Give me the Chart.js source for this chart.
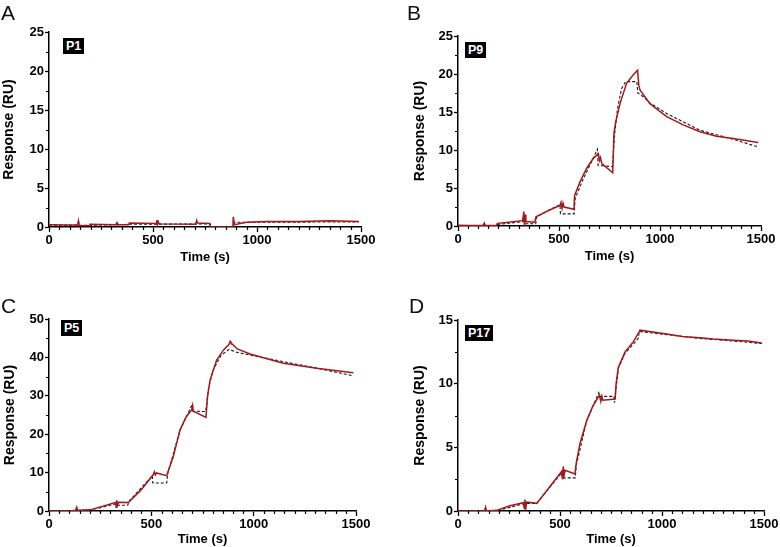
<!DOCTYPE html>
<html>
<head>
<meta charset="utf-8">
<script src="https://cdn.jsdelivr.net/npm/chart.js@4.4.1/dist/chart.umd.min.js"></script>
<style>
  body { margin: 0; background: #fff; width: 780px; height: 547px; position: relative; overflow: hidden;
         font-family: "Liberation Sans", Arial, sans-serif; }
  canvas { position: absolute; }
  .letter { position: absolute; font-size: 21px; line-height: 21px; color: #111; }
  .tag { position: absolute; background: #000; color: #fff; font-weight: bold; font-size: 12.5px;
         line-height: 14px; padding: 1px 3px; }
</style>
</head>
<body>
<canvas id="chartA" width="390" height="273" style="left:0;top:0"></canvas>
<canvas id="chartB" width="390" height="273" style="left:390px;top:0"></canvas>
<canvas id="chartC" width="390" height="274" style="left:0;top:273px"></canvas>
<canvas id="chartD" width="390" height="274" style="left:390px;top:273px"></canvas>

<div class="letter" style="left:1px;top:2px">A</div>
<div class="letter" style="left:407px;top:2px">B</div>
<div class="letter" style="left:1px;top:295px">C</div>
<div class="letter" style="left:409px;top:295px">D</div>

<div class="tag" id="tagA" style="left:63px;top:38px"></div>
<div class="tag" id="tagB" style="left:465px;top:42px"></div>
<div class="tag" id="tagC" style="left:61px;top:320px"></div>
<div class="tag" id="tagD" style="left:465px;top:325px"></div>

<script>
// panel names
let peptides = ["P1", "P9", "P5", "P17"];

// A - P1 (measured, red)
let timeRedA = [0, 100, 138, 141, 144, 195, 197, 320, 327, 330, 383, 386, 515, 518, 521, 525, 530, 705, 710, 714, 772, 776, 884, 886, 892, 950, 1050, 1200, 1350, 1490];
let respRedA = [0.3, 0.25, 0.3, 0.75, 0.2, 0.15, 0.35, 0.3, 0.55, 0.3, 0.3, 0.5, 0.45, 0.9, 0.3, 0.7, 0.4, 0.35, 0.85, 0.5, 0.45, 0.0, 0.0, 1.3, 0.3, 0.6, 0.7, 0.7, 0.8, 0.7];
// A - fit (black dashed)
let timeFitA = [0, 195, 386, 775, 778, 884, 888, 1490];
let respFitA = [0.25, 0.2, 0.35, 0.4, 0.0, 0.0, 0.6, 0.65];

// B - P9
let timeRedB = [0, 60, 125, 130, 135, 190, 195, 250, 320, 326, 329, 332, 336, 380, 386, 430, 470, 505, 510, 515, 520, 525, 574, 577, 604, 637, 670, 695, 700, 705, 712, 766, 772, 780, 802, 835, 868, 889, 895, 901, 950, 1033, 1115, 1198, 1280, 1363, 1486];
let respRedB = [0.1, 0.05, 0.1, 0.4, 0.05, 0.1, 0.35, 0.5, 0.7, 1.9, 0.0, 1.5, 0.6, 0.5, 1.2, 1.8, 2.3, 2.7, 3.1, 2.3, 3.0, 2.5, 2.2, 4.0, 5.8, 7.6, 8.9, 9.5, 8.6, 9.0, 8.2, 7.0, 12.2, 13.6, 16.1, 18.8, 19.9, 20.5, 18.5, 17.9, 16.1, 14.4, 13.3, 12.4, 11.8, 11.5, 11.0];
let timeFitB = [0, 190, 195, 330, 333, 385, 390, 450, 505, 507, 575, 580, 620, 660, 690, 693, 765, 775, 790, 810, 830, 885, 890, 917, 950, 1033, 1198, 1363, 1486];
let respFitB = [0, 0, 0.2, 0.6, 0.3, 0.3, 1.2, 2.1, 2.8, 1.6, 1.6, 3.6, 6.2, 8.4, 10.1, 8.0, 7.8, 12.0, 15.5, 18.1, 19.0, 19.0, 17.5, 17.0, 16.2, 14.8, 12.6, 11.4, 10.4];

// C - P5
let timeRedC = [0, 100, 130, 135, 140, 200, 260, 325, 328, 331, 335, 340, 388, 450, 510, 515, 520, 525, 575, 590, 607, 640, 670, 697, 702, 705, 767, 775, 787, 819, 852, 880, 885, 889, 920, 982, 1145, 1308, 1487];
let respRedC = [0, 0, 0.2, 1.0, 0.2, 0.3, 1.2, 2.2, 1.0, 2.8, 1.5, 2.3, 2.2, 5.5, 9.5, 10.2, 9.4, 9.9, 9.2, 11.5, 14.1, 21.1, 24.5, 26.3, 27.5, 26.0, 24.4, 30.0, 34.1, 39.3, 41.9, 43.4, 44.2, 43.8, 42.2, 40.9, 38.5, 37.2, 36.0];
let timeFitC = [0, 190, 200, 330, 333, 385, 390, 505, 507, 575, 580, 640, 700, 703, 765, 780, 800, 840, 880, 920, 982, 1145, 1308, 1487];
let respFitC = [0, 0, 0.2, 1.9, 1.5, 1.5, 2.5, 9.2, 7.3, 7.3, 9.8, 21.0, 27.8, 26.0, 25.9, 32.0, 36.5, 40.5, 42.1, 41.3, 40.6, 38.9, 37.2, 35.2];

// D - P17
let timeRedD = [0, 130, 135, 140, 190, 250, 320, 325, 328, 332, 336, 386, 450, 508, 512, 516, 520, 525, 573, 580, 598, 631, 660, 693, 700, 705, 710, 770, 775, 786, 819, 860, 889, 892, 1023, 1100, 1186, 1250, 1350, 1420, 1489];
let respRedD = [0, 0, 0.3, 0, 0.05, 0.4, 0.65, 0.2, 0.9, 0.1, 0.7, 0.6, 1.9, 3.1, 2.5, 3.5, 2.8, 3.2, 2.9, 3.8, 5.3, 7.1, 8.2, 9.1, 8.6, 9.0, 8.7, 8.8, 10.0, 11.3, 12.5, 13.3, 14.1, 14.2, 13.9, 13.7, 13.6, 13.5, 13.4, 13.35, 13.2];
let timeFitD = [0, 190, 195, 330, 386, 508, 510, 575, 580, 631, 690, 695, 765, 767, 786, 819, 860, 885, 888, 1023, 1186, 1350, 1489];
let respFitD = [0, 0, 0.05, 0.6, 0.6, 3.0, 2.6, 2.6, 3.6, 7.1, 9.3, 9.0, 9.0, 8.5, 11.2, 12.4, 13.1, 13.6, 14.1, 13.85, 13.55, 13.35, 13.15];

let toPoints = function (times, values) {
    let points = [];
    for (let i = 0; i < times.length; i++) {
        points.push({ x: times[i], y: values[i] });
    }
    return points;
}

// short minor ticks between the major ones
const minorTicks = {
    id: 'minorTicks',
    afterDraw(chart, args, opts) {
        const ctx = chart.ctx;
        const xs = chart.scales.x;
        const ys = chart.scales.y;
        ctx.save();
        ctx.strokeStyle = '#000';
        ctx.lineWidth = 1.2;
        ctx.beginPath();
        for (let v = 50; v < xs.max; v += 50) {
            if (v % 500 === 0) continue;
            const px = Math.round(xs.getPixelForValue(v)) + 0.5;
            ctx.moveTo(px, xs.top);
            ctx.lineTo(px, xs.top + 3);
        }
        for (let v = opts.yStep / 2; v < ys.max; v += opts.yStep) {
            const py = Math.round(ys.getPixelForValue(v)) + 0.5;
            ctx.moveTo(ys.right, py);
            ctx.lineTo(ys.right - 3, py);
        }
        ctx.stroke();
        ctx.restore();
    }
};

let plainLabel = function (value) {
    return String(value);
}

let makePanel = function (id, red, fit, yMax, yStep, box) {
    const canvas = document.getElementById(id);
    const ctx = canvas.getContext('2d');
    new Chart(ctx, {
        type: 'line',
        data: {
            datasets: [{
                label: 'Measured',
                data: red,
                borderColor: '#a3191b',
                borderWidth: 1.5,
                pointRadius: 0,
                tension: 0,
                fill: false
            }, {
                label: 'Fit',
                data: fit,
                borderColor: '#1a1a1a',
                borderWidth: 1.1,
                borderDash: [3, 2],
                pointRadius: 0,
                tension: 0,
                fill: false
            }]
        },
        options: {
            responsive: false,
            animation: false,
            layout: {
                padding: { left: 0, top: box.top, right: canvas.width - box.right, bottom: 0 }
            },
            plugins: {
                legend: { display: false },
                tooltip: { enabled: false },
                minorTicks: { yStep: yStep }
            },
            scales: {
                x: {
                    type: 'linear',
                    min: 0,
                    max: 1500,
                    afterFit: function (scale) { scale.height = canvas.height - box.bottom; },
                    ticks: {
                        stepSize: 500,
                        padding: 1,
                        color: '#000',
                        callback: plainLabel,
                        font: { family: 'Liberation Sans', size: 13, weight: 'bold' }
                    },
                    grid: { drawOnChartArea: false, drawTicks: true, tickLength: 5, tickColor: '#000', tickWidth: 1.3 },
                    border: { display: true, color: '#000', width: 1.5 },
                    title: {
                        display: true,
                        text: 'Time (s)',
                        color: '#000',
                        padding: { top: 0, bottom: box.xTitlePad },
                        font: { family: 'Liberation Sans', size: 13, weight: 'bold' }
                    }
                },
                y: {
                    min: 0,
                    max: yMax,
                    afterFit: function (scale) { scale.width = box.left; },
                    ticks: {
                        stepSize: yStep,
                        padding: 1,
                        color: '#000',
                        callback: plainLabel,
                        font: { family: 'Liberation Sans', size: 13, weight: 'bold' }
                    },
                    grid: { drawOnChartArea: false, drawTicks: true, tickLength: 4, tickColor: '#000', tickWidth: 1.3 },
                    border: { display: true, color: '#000', width: 1.5 },
                    title: {
                        display: true,
                        text: 'Response (RU)',
                        color: '#000',
                        padding: { top: box.yTitlePad, bottom: 0 },
                        font: { family: 'Liberation Sans', size: 14, weight: 'bold' }
                    }
                }
            }
        },
        plugins: [minorTicks]
    });
}

makePanel('chartA', toPoints(timeRedA, respRedA), toPoints(timeFitA, respFitA), 25, 5,
    { left: 49, right: 361, top: 32, bottom: 227, xTitlePad: 8, yTitlePad: 1 });
makePanel('chartB', toPoints(timeRedB, respRedB), toPoints(timeFitB, respFitB), 25, 5,
    { left: 68, right: 371, top: 36, bottom: 226, xTitlePad: 9, yTitlePad: 22 });
makePanel('chartC', toPoints(timeRedC, respRedC), toPoints(timeFitC, respFitC), 50, 10,
    { left: 49, right: 356, top: 46, bottom: 238, xTitlePad: 0, yTitlePad: 2 });
makePanel('chartD', toPoints(timeRedD, respRedD), toPoints(timeFitD, respFitD), 15, 5,
    { left: 68, right: 374, top: 47, bottom: 238, xTitlePad: 0, yTitlePad: 22 });

document.getElementById('tagA').textContent = peptides[0];
document.getElementById('tagB').textContent = peptides[1];
document.getElementById('tagC').textContent = peptides[2];
document.getElementById('tagD').textContent = peptides[3];
</script>
</body>
</html>
